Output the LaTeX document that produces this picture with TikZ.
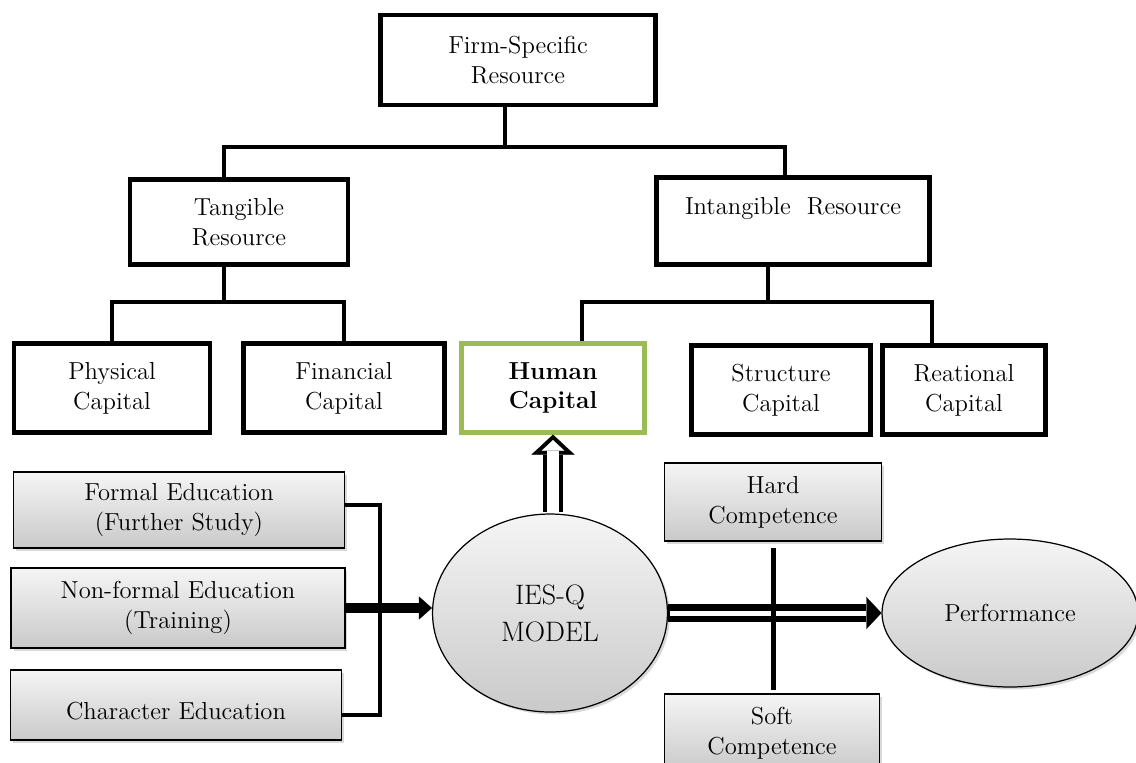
\documentclass[tikz,border=0pt]{standalone}
\usepackage{xcolor}
\usepackage{tikz}
\usetikzlibrary{arrows.meta,shapes.geometric,shadows}
\definecolor{xanhla}{HTML}{9BBB59}
\begin{document}
\begin{tikzpicture}[x=0.02cm,y=-0.02cm,font=\fontsize{14}{17}\selectfont,
	hop/.style={draw,line width=2.4pt,align=center,minimum height=1.78cm},
	xam/.style={draw,line width=0.7pt,align=center,top color=gray!8,bottom color=gray!42,
		drop shadow={opacity=0.3,shadow xshift=0.5mm,shadow yshift=-0.5mm}},
	nhanh/.style={line width=2.3pt}]
			\useasboundingbox (0,0) rectangle (1136,762);
			\clip (0,0) rectangle (1136,762);
			% Cây nguồn lực
			\node[hop,minimum width=5.5cm,minimum height=1.8cm] (firm) at (518,60) {Firm-Specific\\Resource};
			\node[hop,minimum width=4.36cm,minimum height=1.7cm] (tang) at (239,222) {Tangible\\Resource};
			\node[hop,minimum width=5.46cm,minimum height=1.74cm] (intang) at (793,221) {Intangible\ \ Resource\\~};
			\node[hop,minimum width=3.92cm] (phys) at (112,388) {Physical\\Capital};
			\node[hop,minimum width=4.02cm] (fin) at (344,388) {Financial\\Capital};
			\node[hop,draw=xanhla,minimum width=3.66cm] (human) at (553,388) {\textbf{Human}\\\textbf{Capital}};
			\node[hop,minimum width=3.58cm] (struct) at (781,390) {Structure\\Capital};
			\node[hop,minimum width=3.26cm] (reat) at (964,390) {Reational\\Capital};
			\coordinate (fj) at (505,147);
			\coordinate (t1) at (224,147);
			\coordinate (t2) at (785,147);
			\draw[nhanh] (fj |- firm.south) -- (fj);
			\draw[nhanh] (tang.north -| t1) -- (t1) -- (t2) -- (intang.north -| t2);
			\coordinate (tj) at (224,302);
			\draw[nhanh] (tang.south -| tj) -- (tj);
			\draw[nhanh] (phys.north) |- (tj) -| (fin.north);
			\coordinate (ij) at (768,302);
			\coordinate (h1) at (582,302);
			\coordinate (h2) at (932,302);
			\draw[nhanh] (intang.south -| ij) -- (ij);
			\draw[nhanh] (human.north -| h1) -- (h1) -- (h2) -- (reat.north -| h2);
			% Mô hình IES-Q
			\node[xam,minimum width=6.62cm,minimum height=1.52cm] (formal) at (179,510) {Formal Education\\(Further Study)};
			\node[xam,minimum width=6.68cm,minimum height=1.6cm] (nonformal) at (178,608) {Non-formal Education\\(Training)};
			\node[xam,minimum width=6.62cm,minimum height=1.4cm] (charac) at (176,705) {~\\Character Education};
			\node[xam,ellipse,minimum width=4.7cm,minimum height=3.96cm,font=\fontsize{16}{21}\selectfont] (iesq) at (550,613) {IES-Q\\MODEL};
			\node[xam,minimum width=4.34cm,minimum height=1.56cm] (hard) at (773,502) {Hard\\Competence};
			\node[xam,minimum width=4.3cm,minimum height=1.56cm] (soft) at (772,733) {Soft\\Competence};
			\node[xam,ellipse,minimum width=5.12cm,minimum height=2.96cm] (perf) at (1010,613) {Performance};
			\coordinate (bj) at (380,608);
			\draw[nhanh] ([yshift=0.1cm]formal.east) -| (bj) |- ([yshift=-0.2cm]charac.east);
			\draw[line width=5.5pt,-{Triangle[length=0.26cm,width=0.46cm,line width=0.1pt]}] (nonformal.east) -- (nonformal.east -| iesq.west);
			% Mũi tên rỗng
			\draw[line width=0.4cm,shorten <=1pt,-{Triangle[length=0.4cm,width=0.86cm,line width=0.1pt]}] (human.south |- iesq.north) -- (human.south);
			\draw[white,line width=0.24cm,shorten <=1pt,shorten >=0.11cm,-{Triangle[length=0.21cm,width=0.45cm,line width=0.1pt]}] (human.south |- iesq.north) -- (human.south);
			\draw[line width=0.36cm,-{Triangle[length=0.3cm,width=0.64cm,line width=0.1pt]}] (iesq.east) -- (perf.west);
			\draw[white,line width=0.1cm,shorten <=1pt,shorten >=0.3cm] (iesq.east) -- (perf.west);
			\draw[line width=0.1cm,shorten <=0.12cm,shorten >=0.06cm] (hard.south) -- (hard.south |- soft.north);
		\end{tikzpicture}
\end{document}
